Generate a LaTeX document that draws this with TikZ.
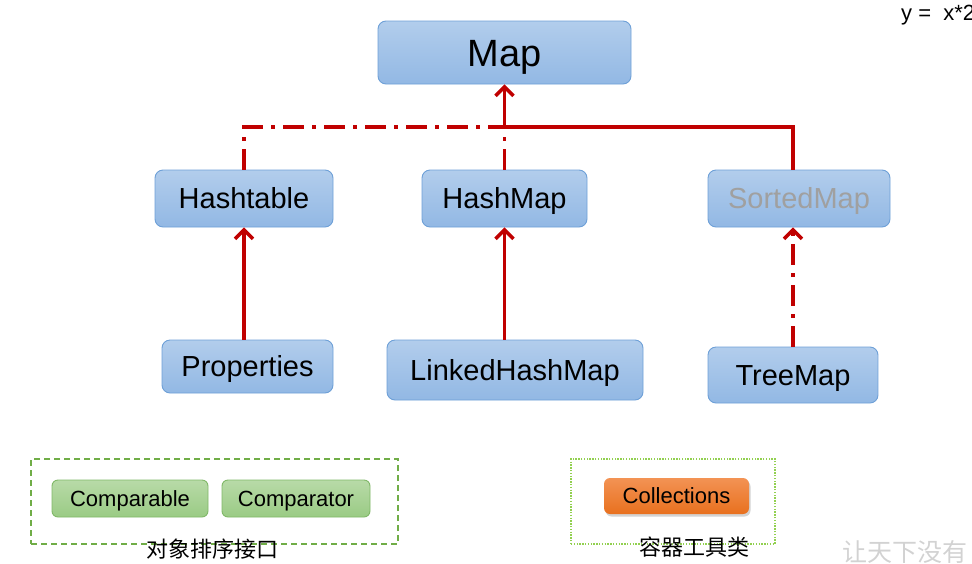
\documentclass[tikz,border=0pt]{standalone}
\usepackage{fontspec}
\setmainfont{Liberation Sans}
\newfontfamily\cjk{Noto Sans CJK SC}
\usetikzlibrary{arrows.meta,shadows}
\definecolor{arrred}{RGB}{192,0,0}
\definecolor{bluetop}{RGB}{178,205,236}
\definecolor{bluebot}{RGB}{146,184,228}
\definecolor{bluebd}{RGB}{110,160,215}
\definecolor{greentop}{RGB}{184,218,168}
\definecolor{greenbot}{RGB}{154,203,132}
\definecolor{greenbd}{RGB}{128,184,104}
\definecolor{orangetop}{RGB}{243,147,84}
\definecolor{orangebot}{RGB}{232,112,30}
\definecolor{boxgreen}{RGB}{112,173,71}
\definecolor{dotgreen}{RGB}{146,208,80}
\begin{document}
\begin{tikzpicture}[x=1pt,y=-1pt,
  bluebox/.style={draw=bluebd, line width=0.9pt, rounded corners=8pt,
    top color=bluetop, bottom color=bluebot, inner sep=0pt,
    text height=20.8pt, text depth=0pt,
    font=\fontsize{29}{34}\selectfont},
  greenbox/.style={draw=greenbd, line width=0.9pt, rounded corners=6pt,
    top color=greentop, bottom color=greenbot, inner sep=0pt,
    text height=15.8pt, text depth=0pt,
    minimum height=37pt, font=\fontsize{22}{26}\selectfont},
  orangebox/.style={draw=none, rounded corners=6pt,
    top color=orangetop, bottom color=orangebot, inner sep=0pt,
    text height=15.8pt, text depth=0pt,
    drop shadow={shadow xshift=1.5pt, shadow yshift=-2.5pt, opacity=0.35},
    font=\fontsize{22}{26}\selectfont},
  solidline/.style={draw=arrred, line width=3.8pt},
  dashdotline/.style={draw=arrred, line width=3.8pt,
    dash pattern=on 21pt off 8pt on 4pt off 8pt},
  tip/.style={-{Straight Barb[length=9pt,width=18pt,line width=3.5pt]}},
  cnlabel/.style={font=\cjk\fontsize{22}{26}\selectfont, inner sep=0pt}
]
\useasboundingbox (0,0) rectangle (972,563);
\clip (0,0) rectangle (972,563);

% main nodes
\node[bluebox, minimum width=253pt, minimum height=63pt, text height=27.2pt,
  font=\fontsize{38}{44}\selectfont] (map) at (504.5,52.5) {Map};
\node[bluebox, minimum width=178pt, minimum height=57pt] (ht) at (244,198.5) {Hashtable};
\node[bluebox, minimum width=165pt, minimum height=57pt] (hm) at (504.5,198.5) {HashMap};
\node[bluebox, minimum width=182pt, minimum height=57pt, text={rgb,255:red,160;green,160;blue,160}] (sm) at (799,198.5) {SortedMap};
\node[bluebox, minimum width=171pt, minimum height=53pt] (pr) at (247.5,366.5) {Properties};
\node[bluebox, minimum width=256pt, minimum height=60pt] (lhm) at (515,370) {LinkedHashMap};
\node[bluebox, minimum width=170pt, minimum height=56pt] (tm) at (793,375) {TreeMap};

% connectors
\coordinate (j) at (504.5,127);
\coordinate (jl) at (244,127);
\draw[dashdotline] (ht.north -| jl) -- (jl) -- (j);
\draw[dashdotline] (hm.north) -- (j);
\draw[solidline] (sm.north -| 793,0) |- (j);
\draw[solidline, tip] (j) -- (map.south);
\draw[solidline, tip] (pr.north -| jl) -- (ht.south -| jl);
\draw[solidline, tip] (lhm.north -| j) -- (hm.south);
\draw[dashdotline, tip] (tm.north) -- (tm.north |- sm.south);

% comparison group
\node[draw=boxgreen, line width=1.1pt, dash pattern=on 6pt off 4pt,
  minimum width=367pt, minimum height=85pt, inner sep=0pt] (grp1) at (214.5,501.5) {};
\node[greenbox, minimum width=156pt] (cmpb) at (130,498.5) {Comparable};
\node[greenbox, minimum width=148pt] (cmpt) at (296,498.5) {Comparator};
\node[cnlabel] (lab1) at (212,549) {对象排序接口};

% collections group
\node[draw=dotgreen, line width=1.4pt, dash pattern=on 1.4pt off 1.4pt,
  minimum width=204pt, minimum height=85pt, inner sep=0pt] (grp2) at (673,501.5) {};
\node[orangebox, minimum width=145pt, minimum height=36pt] (coll) at (676.5,496) {Collections};
\node[cnlabel] (lab2) at (694,547) {容器工具类};

% extra texts
\node[anchor=west, inner sep=0pt, font=\fontsize{22}{26}\selectfont] (eq) at (901,15) {y =\ \ x*2};
\node[anchor=west, inner sep=0pt, text={rgb,255:red,210;green,210;blue,210},
  font=\cjk\fontsize{25}{28}\selectfont] (wm) at (842,552) {让天下没有};
\end{tikzpicture}
\end{document}
